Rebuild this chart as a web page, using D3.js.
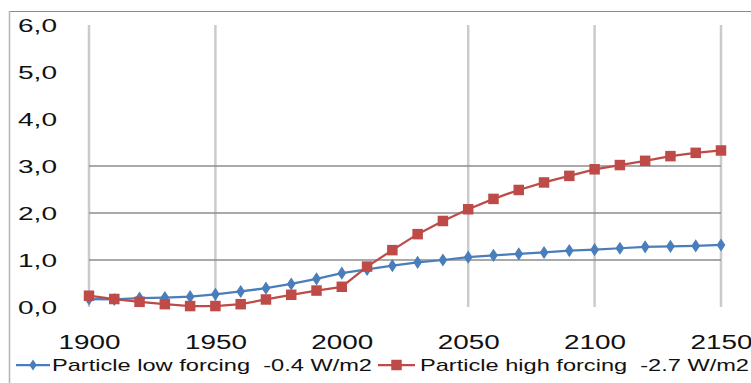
<!DOCTYPE html>
<html>
<head>
<meta charset="utf-8">
<script src="https://cdn.jsdelivr.net/npm/d3@7"></script>
<style>
  html, body { margin: 0; padding: 0; background: #fff; }
  svg { display: block; }
  text { font-family: "Liberation Sans", Arial, sans-serif; fill: #111; }
</style>
</head>
<body>
<svg id="chart" width="751" height="383"></svg>
<script>
// Years sampled every decade
const years = [1900, 1910, 1920, 1930, 1940, 1950, 1960, 1970, 1980, 1990,
               2000, 2010, 2020, 2030, 2040, 2050, 2060, 2070, 2080, 2090,
               2100, 2110, 2120, 2130, 2140, 2150];

const lowForcing = [0.17, 0.16, 0.19, 0.20, 0.22, 0.27, 0.33, 0.40, 0.49, 0.60,
                    0.72, 0.80, 0.88, 0.95, 1.00, 1.06, 1.10, 1.13, 1.16, 1.20,
                    1.22, 1.25, 1.28, 1.29, 1.30, 1.32];

const highForcing = [0.24, 0.17, 0.11, 0.06, 0.02, 0.02, 0.06, 0.16, 0.26, 0.35,
                     0.43, 0.86, 1.21, 1.55, 1.83, 2.08, 2.30, 2.49, 2.65, 2.79,
                     2.93, 3.02, 3.11, 3.21, 3.28, 3.33];

const seriesNames = ["Particle low forcing  -0.4 W/m2", "Particle high forcing  -2.7 W/m2"];
const seriesColors = ["#4a7ebb", "#be4b48"];

const yTicks = [0, 1, 2, 3, 4, 5, 6];
const xTicks = [1900, 1950, 2000, 2050, 2100, 2150];
const yGridValues = [1, 2, 3];
const xGridValues = [1900, 1950, 2050, 2100, 2150];

const svg = d3.select("#chart");

const x = d3.scaleLinear().domain([1900, 2150]).range([89, 721]);
const y = d3.scaleLinear().domain([0, 6]).range([307, 25]);

// Outer frame (top and left edges)
svg.append("line").attr("x1", 9).attr("x2", 751).attr("y1", 11.5).attr("y2", 11.5)
  .attr("stroke", "#8a8a8a").attr("stroke-width", 1.2);
svg.append("line").attr("x1", 9.5).attr("x2", 9.5).attr("y1", 11).attr("y2", 383)
  .attr("stroke", "#b4b4b4").attr("stroke-width", 1.5);

// Vertical gridlines
svg.append("g").selectAll("line").data(xGridValues).join("line")
  .attr("x1", d => x(d)).attr("x2", d => x(d))
  .attr("y1", y(6)).attr("y2", y(0))
  .attr("stroke", "#cbcbcb").attr("stroke-width", 2.5);

// Horizontal gridlines
svg.append("g").selectAll("line").data(yGridValues).join("line")
  .attr("x1", x(1900)).attr("x2", x(2150))
  .attr("y1", d => y(d)).attr("y2", d => y(d))
  .attr("stroke", "#8c8c8c").attr("stroke-width", 1.5);

// Y axis labels
const yAxis = d3.axisLeft(y).tickValues(yTicks).tickSize(0).tickPadding(0)
  .tickFormat(d => d3.format(".1f")(d).replace(".", ","));
const gy = svg.append("g").attr("transform", "translate(57,0)").call(yAxis);
gy.select(".domain").remove();
gy.selectAll("text")
  .attr("font-size", 18.5).attr("font-family", "Liberation Sans, Arial, sans-serif")
  .attr("dy", "0.36em")
  .attr("textLength", 39).attr("lengthAdjust", "spacingAndGlyphs");

// X axis labels
const xAxis = d3.axisBottom(x).tickValues(xTicks).tickSize(0).tickPadding(0)
  .tickFormat(d3.format("d"));
const gx = svg.append("g").attr("transform", "translate(0,349)").call(xAxis);
gx.select(".domain").remove();
gx.selectAll("text")
  .attr("font-size", 19.5).attr("font-family", "Liberation Sans, Arial, sans-serif")
  .attr("dy", 0).attr("y", 0)
  .attr("textLength", 62).attr("lengthAdjust", "spacingAndGlyphs");

// Series lines and markers
const line = d3.line().x(d => x(d[0])).y(d => y(d[1]));
const lowData = years.map((yr, i) => [yr, lowForcing[i]]);
const highData = years.map((yr, i) => [yr, highForcing[i]]);

const diamond = d3.symbol().type(d3.symbolDiamond).size(36);

svg.append("path").datum(lowData).attr("d", line)
  .attr("fill", "none").attr("stroke", seriesColors[0]).attr("stroke-width", 2.25)
  .attr("stroke-linejoin", "round");
svg.append("g").selectAll("path").data(lowData).join("path")
  .attr("d", diamond)
  .attr("transform", d => `translate(${x(d[0])},${y(d[1])}) scale(1.15,1)`)
  .attr("fill", seriesColors[0]).attr("stroke", seriesColors[0]).attr("stroke-width", 1);

svg.append("path").datum(highData).attr("d", line)
  .attr("fill", "none").attr("stroke", seriesColors[1]).attr("stroke-width", 2.25)
  .attr("stroke-linejoin", "round");
const sq = 10.5;
svg.append("g").selectAll("rect").data(highData).join("rect")
  .attr("x", d => x(d[0]) - sq / 2).attr("y", d => y(d[1]) - sq / 2)
  .attr("width", sq).attr("height", sq)
  .attr("fill", seriesColors[1]);

// Legend
const legendItems = [
  { name: seriesNames[0], color: seriesColors[0], x0: 16, x1: 50, textX: 52, textW: 320, kind: "diamond" },
  { name: seriesNames[1], color: seriesColors[1], x0: 378, x1: 415, textX: 420, textW: 329, kind: "square" }
];
const legendY = 365;
const lg = svg.append("g");
legendItems.forEach(item => {
  lg.append("line").attr("x1", item.x0).attr("x2", item.x1)
    .attr("y1", legendY).attr("y2", legendY)
    .attr("stroke", item.color).attr("stroke-width", 2.25);
  const cx = (item.x0 + item.x1) / 2;
  if (item.kind === "diamond") {
    lg.append("path").attr("d", diamond)
      .attr("transform", `translate(${cx},${legendY}) scale(1.15,1)`)
      .attr("fill", item.color);
  } else {
    lg.append("rect").attr("x", cx - sq / 2).attr("y", legendY - sq / 2)
      .attr("width", sq).attr("height", sq).attr("fill", item.color);
  }
  lg.append("text").attr("x", item.textX).attr("y", legendY + 5.5)
    .attr("font-size", 17)
    .attr("xml:space", "preserve")
    .style("white-space", "pre")
    .attr("textLength", item.textW).attr("lengthAdjust", "spacingAndGlyphs")
    .text(item.name);
});
</script>
</body>
</html>
